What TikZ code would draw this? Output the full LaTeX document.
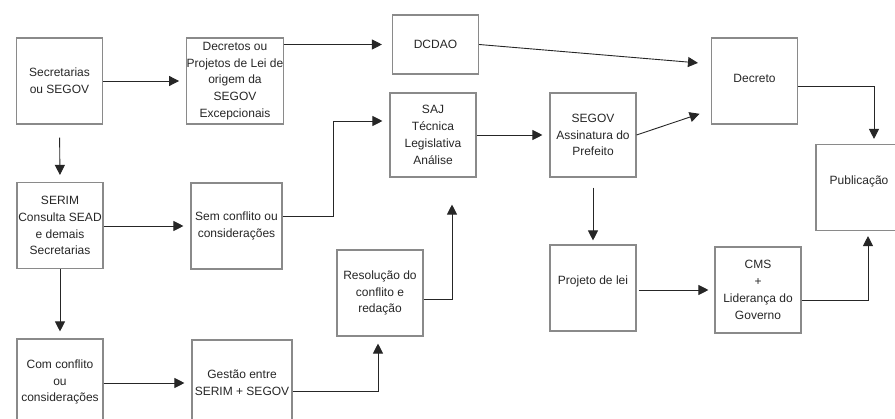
\documentclass[tikz,border=0pt]{standalone}
\usepackage{fontspec}
\setmainfont{Liberation Sans}
\usepackage{tikz}
\usetikzlibrary{arrows.meta}

\definecolor{boxgray}{HTML}{8A8A8A}
\definecolor{linegray}{HTML}{262626}

\begin{document}
\begin{tikzpicture}[x=1pt,y=-1pt,->,>={Triangle[length=10pt,width=10pt]},
                    line width=0.9pt,draw=linegray,shorten >=7pt]
  \tikzstyle{every node}=[font=\fontsize{12}{16.8}\selectfont,text=linegray]
  \tikzstyle{etapa}=[draw=boxgray,line width=1.1pt,rectangle,align=center,
                     inner sep=0pt,minimum width=86pt,minimum height=86pt]

  \useasboundingbox (0,0) rectangle (895,419);
  \clip (0,0) rectangle (895,419);

  \node[etapa]                    (sec)  at (59.5,81)  {Secretarias\\ou SEGOV};
  \node[etapa,minimum width=94pt] (decr) at (235,81)   {Decretos ou\\Projetos de Lei de\\origem da\\SEGOV\\Excepcionais};
  \node[etapa]                    (serim) at (60,225.5) {SERIM\\Consulta SEAD\\e demais\\Secretarias};
  \node[etapa,minimum width=91pt] (sem)  at (236.5,226) {Sem conflito ou\\considerações};
  \node[etapa]                    (com)  at (60,382)   {Com conflito\\ou\\considerações};
  \node[etapa,minimum width=100pt] (gest) at (242,383) {Gestão entre\\SERIM + SEGOV};
  \node[etapa,minimum height=59pt] (dcdao) at (435.5,44.5) {DCDAO};
  \node[etapa,minimum height=84pt] (saj) at (433,135)  {SAJ\\Técnica\\Legislativa\\Análise};
  \node[etapa]                    (res)  at (380,293)  {Resolução do\\conflito e\\redação};
  \node[etapa,minimum height=84pt] (segov) at (593,135) {SEGOV\\Assinatura do\\Prefeito};
  \node[etapa,text depth=6pt]     (decreto) at (754.5,81) {Decreto};
  \node[etapa,text depth=14pt]    (pub)  at (859,187.5) {Publicação};
  \node[etapa,text depth=16pt]    (proj) at (593,288)  {Projeto de lei};
  \node[etapa]                    (cms)  at (758,290)  {CMS\\+\\Liderança do\\Governo};

  \draw (sec.east) -- (decr.west);
  \draw[shorten <=13pt] (sec.south) -- (serim.north);
  \draw (serim.east |- sem.west) -- (sem.west);
  \draw (serim.south) -- (com.north);
  \draw (com.east |- gest.west) -- (gest.west);
  \draw ([yshift=-8pt]gest.east) -| ([xshift=-2pt]res.south);
  \draw[shorten >=27pt] ([yshift=-6pt]res.east) -| ([xshift=19pt]saj.south);
  \draw ([yshift=10pt]sem.east) -- ++(51,0) |- ([yshift=14pt]saj.west);
  \draw[shorten >=10pt] (decr.east |- dcdao.west) -- (dcdao.west);
  \draw (saj.east) -- (segov.west);
  \draw[shorten >=13pt] (dcdao.east) -- ([yshift=17pt]decreto.west);
  \draw[shorten >=12pt] (segov.east) -- ([yshift=-29pt]decreto.west);
  \draw[shorten >=5pt] ([yshift=-5pt]decreto.east) -| ([xshift=15pt]pub.north);
  \draw[shorten <=10pt,shorten >=4pt] (segov.south) -- (proj.north);
  \draw[shorten >=6pt] ([shift={(2pt,-2pt)}]proj.east) -- ([yshift=-2pt]proj.east -| cms.west);
  \draw[shorten >=5pt] ([yshift=-10pt]cms.east) -| ([xshift=9pt]pub.south);

\end{tikzpicture}
\end{document}
